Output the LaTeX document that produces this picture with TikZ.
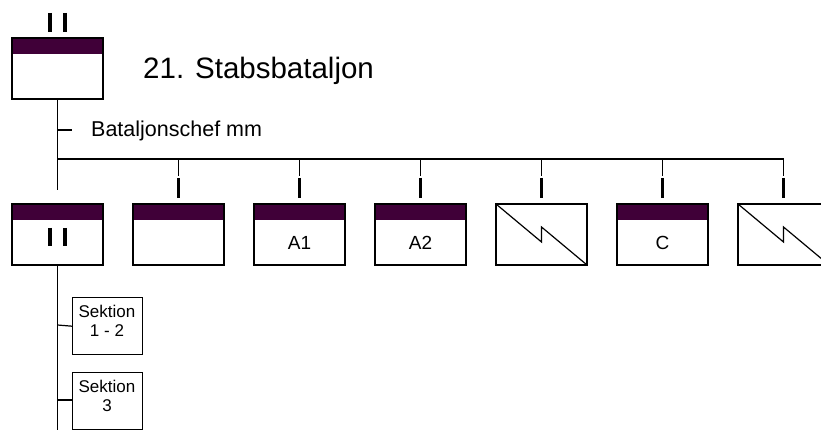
\documentclass[tikz,border=0pt]{standalone}
\usepackage{fontspec}
\setmainfont{Liberation Sans}
\definecolor{bandcol}{RGB}{64,0,56}
\tikzset{
  unitbox/.style={draw=black, line width=1.6pt, fill=white, minimum width=91pt, minimum height=61pt, inner sep=0pt, outer sep=0pt, anchor=north},
  bandbox/.style={unitbox, path picture={\fill[bandcol] (path picture bounding box.north west) rectangle ([yshift=-16pt]path picture bounding box.north east);}},
  conn/.style={line width=1.2pt, black},
  echelon/.style={line width=3.6pt, black},
  lbl/.style={font=\fontsize{19}{21}\selectfont, inner sep=0pt, align=center},
  subbox/.style={draw=black, line width=1.4pt, fill=white, minimum width=70pt, minimum height=57pt, inner sep=0pt, anchor=north west},
  sublbl/.style={inner sep=0pt, align=center, font=\fontsize{17}{19}\selectfont},
}
\begin{document}
\begin{tikzpicture}[x=1pt,y=-1pt]
\useasboundingbox (0,0) rectangle (821,430);
% top unit
\node[bandbox] (top) at (57.5,38) {};
\draw[echelon] (50,13) -- (50,32);
\draw[echelon] (65,13) -- (65,32);
\node[anchor=west, font=\fontsize{29.5}{32}\selectfont, inner sep=0pt] (title) at (143,71) {21. Stabsbataljon};
% chief
\coordinate (bus0) at (57.5,159);
\coordinate (tickend) at (72,130);
\draw[conn] (top.south) -- (57.5,190);
\draw[conn] (57.5,130) -- (tickend);
\node[anchor=west, font=\fontsize{21.5}{24}\selectfont, inner sep=0pt] (chef) at (91,131) {Bataljonschef mm};
% bus
\coordinate (bus7) at (783.5,159);
\draw[conn] (bus0) -- (bus7);
% children
\node[bandbox] (c1) at (57.5,204) {};
\draw[echelon] (50,228) -- (50,246);
\draw[echelon] (65,228) -- (65,246);
\foreach \i/\x in {2/178.5,3/299.5,4/420.5,5/541.5,6/662.5,7/783.5}{
  \coordinate (d\i) at (\x,159);
  \draw[conn] (d\i) -- (\x,176);
  \draw[echelon] (\x,178) -- (\x,198);
}
\node[bandbox] (c2) at (178.5,204) {};
\node[bandbox] (c3) at (299.5,204) {};
\node[lbl] (l3) at (299.5,243) {A1};
\node[bandbox] (c4) at (420.5,204) {};
\node[lbl] (l4) at (420.5,243) {A2};
\node[unitbox] (c5) at (541.5,204) {};
\draw[line width=1.2pt] (c5.north west) -- (541.5,242) -- (541.5,227) -- (c5.south east);
\node[bandbox] (c6) at (662.5,204) {};
\node[lbl] (l6) at (662.5,243) {C};
\node[unitbox] (c7) at (783.5,204) {};
\draw[line width=1.2pt] (c7.north west) -- (783.5,242) -- (783.5,227) -- (c7.south east);
% sections
\node[subbox] (s1) at (72,297) {};
\node[sublbl] (s1t) at (107,321) {Sektion\\1 - 2};
\node[subbox] (s2) at (72,372) {};
\node[sublbl] (s2t) at (107,396) {Sektion\\3};
\coordinate (vend) at (57.5,432);
\draw[conn] (c1.south) -- (vend);
\draw[conn] (57.5,325) -- (s1.west);
\draw[conn] (57.5,400) -- (s2.west |- 0,400);
\end{tikzpicture}
\end{document}
